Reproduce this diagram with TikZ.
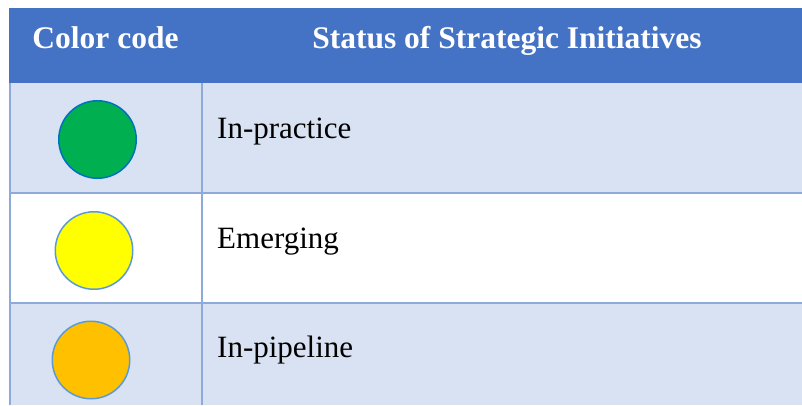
\documentclass[tikz,border=0pt]{standalone}
\usepackage{fontspec}
\setmainfont{Liberation Serif}

\definecolor{headblue}{HTML}{4472C4}
\definecolor{rowblue}{HTML}{D9E2F3}
\definecolor{gridblue}{HTML}{8EAADB}
\definecolor{dotgreen}{HTML}{00B050}
\definecolor{dotyellow}{HTML}{FFFF00}
\definecolor{dotorange}{HTML}{FFC000}
\definecolor{rimblue}{HTML}{5B9BD5}
\definecolor{rimdark}{HTML}{0070C0}

\tikzset{
  dot/.style={circle, minimum size=77.5pt, inner sep=0pt, line width=1.5pt},
  headtext/.style={text=white, font=\fontsize{31.5}{36}\selectfont\bfseries, anchor=base, inner sep=0pt},
  entry/.style={font=\fontsize{31}{36}\selectfont, anchor=base west, inner sep=0pt},
  grid line/.style={gridblue, line width=1.5pt}
}

\begin{document}
\begin{tikzpicture}[x=1pt,y=-1pt]
    \useasboundingbox (0,0) rectangle (802,405);

    % Row shading
    \fill[headblue] (9,8) rectangle (802,83);
    \fill[rowblue] (9,83) rectangle (802,193);
    \fill[rowblue] (9,303) rectangle (802,405);

    % Grid
    \draw[grid line] (10,83) -- (10,405);
    \draw[grid line] (202,83) -- (202,405);
    \draw[grid line] (9,193) -- (802,193);
    \draw[grid line] (9,303) -- (802,303);

    % Header
    \node[headtext] (codehead) at (105.5,48) {Color code};
    \node[headtext] (statushead) at (507,48) {Status of Strategic Initiatives};

    % Colour dots
    \node[dot, fill=dotgreen, draw=rimdark] (green) at (97.5,139.5) {};
    \node[dot, fill=dotyellow, draw=rimblue] (yellow) at (94,250.5) {};
    \node[dot, fill=dotorange, draw=rimblue] (orange) at (91,360) {};

    % Status labels
    \node[entry] (practice) at (217,138) {In-practice};
    \node[entry] (emerging) at (217,248) {Emerging};
    \node[entry] (pipeline) at (217,357) {In-pipeline};
\end{tikzpicture}
\end{document}
